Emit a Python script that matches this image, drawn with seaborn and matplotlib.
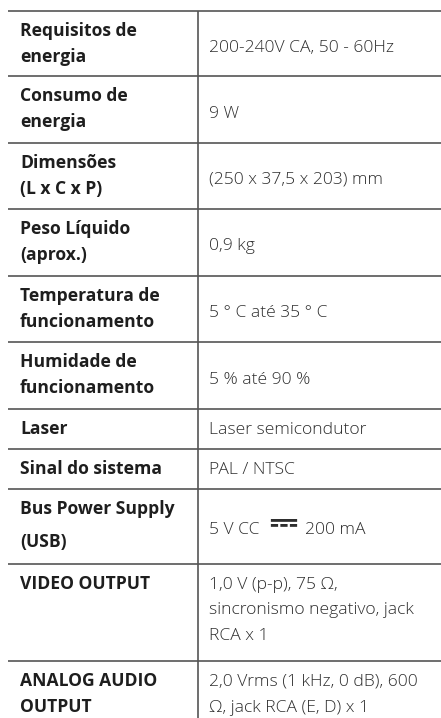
import matplotlib
matplotlib.use("Agg")
import matplotlib.pyplot as plt
import seaborn as sns
import numpy as np

# table content
labels = [
    "Requisitos de\nenergia",
    "Consumo de\nenergia",
    "Dimensões\n(L x C x P)",
    "Peso Líquido\n(aprox.)",
    "Temperatura de\nfuncionamento",
    "Humidade de\nfuncionamento",
    "Laser",
    "Sinal do sistema",
    "Bus Power Supply\n(USB)",
    "VIDEO OUTPUT",
    "ANALOG AUDIO\nOUTPUT",
]
values = [
    "200-240V CA, 50 - 60Hz",
    "9 W",
    "(250 x 37,5 x 203) mm",
    "0,9 kg",
    "5 ° C até 35 ° C",
    "5 % até 90 %",
    "Laser semicondutor",
    "PAL / NTSC",
    "5 V CC \u2393 200 mA",
    "1,0 V (p-p), 75 Ω,\nsincronismo negativo, jack\nRCA x 1",
    "2,0 Vrms (1 kHz, 0 dB), 600\nΩ, jack RCA (E, D) x 1",
]
DC = "\u2393"

# layout (pixels)
W, H = 441, 718
top0 = 11
row_h = [65, 67, 66, 67, 66, 67, 40, 40, 75, 97, H - 11 - 650]
x_rule, x_div = 8, 198
x_left, x_right = 20, 209

sns.set_theme(style="white")
plt.rcParams["font.family"] = ["Open Sans", "Noto Sans Symbols", "DejaVu Sans"]

fig = plt.figure(figsize=(W / 100, H / 100), dpi=100)
ax = fig.add_axes([0, 0, 1, 1])
ax.set_xlim(0, W)
ax.set_ylim(H, 0)
ax.axis("off")
renderer = fig.canvas.get_renderer()

tops = top0 + np.concatenate([[0], np.cumsum(row_h)[:-1]])
line_col = "#555555"

# horizontal rules (no rule under the last row)
ax.hlines(tops, x_rule, W, color=line_col, lw=1.2)
ax.vlines(x_div, top0, H, color=line_col, lw=1.2)

val_kw = dict(fontsize=12.6, fontweight=300, color="#2e2e2e", va="baseline", ha="left")

for lab, val, top, h in zip(labels, values, tops, row_h):
    lab_lines = lab.split("\n")
    val_lines = val.split("\n")
    step_l = 33 if lab.startswith("Bus") else 26
    for i, s in enumerate(lab_lines):
        ax.text(x_left, top + 25 + i * step_l, s, fontsize=12.6, fontweight="bold",
                color="#1e1e1e", va="baseline", ha="left")
    if len(val_lines) == 1 and len(lab_lines) > 1:
        ys = [top + h / 2 + 8]
    else:
        ys = [top + 25 + i * 25.5 for i in range(len(val_lines))]
    for y, s in zip(ys, val_lines):
        if DC in s:
            # the DC sign is drawn larger, as in the reference
            head, tail = s.split(DC)
            t1 = ax.text(x_right, y, head.rstrip(), **val_kw)
            x1 = t1.get_window_extent(renderer).x1 + 9
            t2 = ax.text(x1, y + 2, DC, fontsize=27, fontweight="bold", color="#2e2e2e",
                         va="baseline", ha="left")
            x2 = t2.get_window_extent(renderer).x1 + 6
            ax.text(x2, y, tail.strip(), **val_kw)
        else:
            ax.text(x_right, y, s, **val_kw)

fig.savefig("out.png", dpi=100)
